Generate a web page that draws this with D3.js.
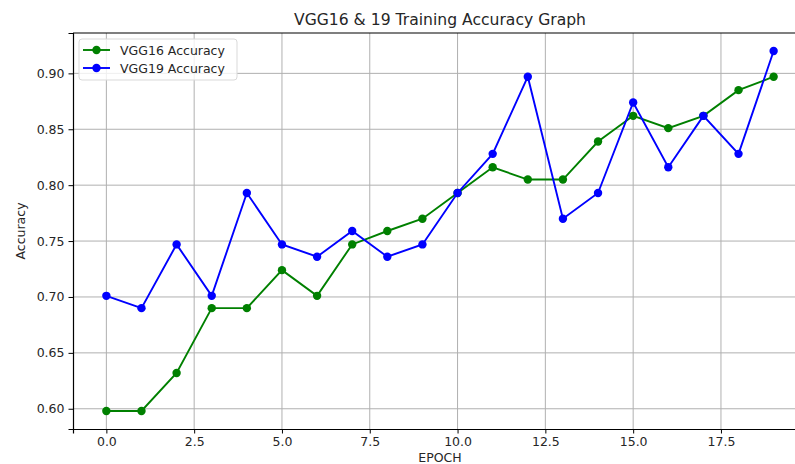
<!DOCTYPE html>
<html>
<head>
<meta charset="utf-8">
<script src="https://cdn.jsdelivr.net/npm/d3@7"></script>
<style>
  body { margin: 0; background: #fff; }
  text { font-family: "DejaVu Sans", sans-serif; fill: #262626; }
</style>
</head>
<body>
<div id="chart"></div>
<script>
// <-- ************ DATA ************ -->
const EPOCHS = d3.range(0, 20);
const VGG16_ACC = [0.598, 0.598, 0.632, 0.690, 0.690, 0.724, 0.701, 0.747, 0.759, 0.770,
                   0.793, 0.816, 0.805, 0.805, 0.839, 0.862, 0.851, 0.862, 0.885, 0.897];
const VGG19_ACC = [0.701, 0.690, 0.747, 0.701, 0.793, 0.747, 0.736, 0.759, 0.736, 0.747,
                   0.793, 0.828, 0.897, 0.770, 0.793, 0.874, 0.816, 0.862, 0.828, 0.920];
const X_TICKS = [0, 2.5, 5, 7.5, 10, 12.5, 15, 17.5];
const Y_TICKS = [0.60, 0.65, 0.70, 0.75, 0.80, 0.85, 0.90];
const SERIES = [
  {name: "VGG16 Accuracy", values: VGG16_ACC, color: "green"},
  {name: "VGG19 Accuracy", values: VGG19_ACC, color: "blue"}
];

// <-- ************ GLOBAL CONSTANTS ************ -->
const FRAME_WIDTH = 795;
const FRAME_HEIGHT = 464;
const MARGINS = {left: 73, right: -12, top: 33, bottom: 35};
const GRAPH_WIDTH = FRAME_WIDTH - MARGINS.left - MARGINS.right;
const GRAPH_HEIGHT = FRAME_HEIGHT - MARGINS.top - MARGINS.bottom;

const svg = d3.select("#chart")
  .append("svg")
  .attr("width", FRAME_WIDTH)
  .attr("height", FRAME_HEIGHT);

// matplotlib-like 5% margins
const xPad = (19 - 0) * 0.05;
const yMin = d3.min(SERIES, s => d3.min(s.values));
const yMax = d3.max(SERIES, s => d3.max(s.values));
const yPad = (yMax - yMin) * 0.05;

const X_SCALE = d3.scaleLinear()
  .domain([0 - xPad, 19 + xPad])
  .range([0, GRAPH_WIDTH]);
const Y_SCALE = d3.scaleLinear()
  .domain([yMin - yPad, yMax + yPad])
  .range([GRAPH_HEIGHT, 0]);

const g = svg.append("g")
  .attr("transform", "translate(" + MARGINS.left + "," + MARGINS.top + ")");

// grid
g.append("g")
  .selectAll("line")
  .data(X_TICKS)
  .enter()
  .append("line")
  .attr("x1", d => X_SCALE(d)).attr("x2", d => X_SCALE(d))
  .attr("y1", 0).attr("y2", GRAPH_HEIGHT)
  .attr("stroke", "#b0b0b0").attr("stroke-width", 1);
g.append("g")
  .selectAll("line")
  .data(Y_TICKS)
  .enter()
  .append("line")
  .attr("x1", 0).attr("x2", GRAPH_WIDTH)
  .attr("y1", d => Y_SCALE(d)).attr("y2", d => Y_SCALE(d))
  .attr("stroke", "#b0b0b0").attr("stroke-width", 1);

// axes
const xAxis = g.append("g")
  .attr("transform", "translate(0," + GRAPH_HEIGHT + ")")
  .call(d3.axisBottom(X_SCALE).tickValues(X_TICKS).tickFormat(d3.format(".1f")).tickSizeOuter(0).tickSize(4.5).tickPadding(4));
const yAxis = g.append("g")
  .call(d3.axisLeft(Y_SCALE).tickValues(Y_TICKS).tickFormat(d3.format(".2f")).tickSizeOuter(0).tickSize(4.5).tickPadding(4));
[xAxis, yAxis].forEach(a => {
  a.attr("font-size", "12.5px").attr("font-family", "DejaVu Sans");
  a.selectAll("text").attr("fill", "#262626");
  a.selectAll("line").attr("stroke", "#000");
  a.select(".domain").attr("stroke", "#000").attr("stroke-width", 1.2);
});

// top spine
g.append("line")
  .attr("x1", 0).attr("x2", GRAPH_WIDTH)
  .attr("y1", 0).attr("y2", 0)
  .attr("stroke", "#000").attr("stroke-width", 1.2);

// lines and markers
const line = d3.line()
  .x((d, i) => X_SCALE(EPOCHS[i]))
  .y(d => Y_SCALE(d));

SERIES.forEach(s => {
  g.append("path")
    .datum(s.values)
    .attr("d", line)
    .attr("fill", "none")
    .attr("stroke", s.color)
    .attr("stroke-width", 1.9);
  g.append("g")
    .selectAll("circle")
    .data(s.values)
    .enter()
    .append("circle")
    .attr("cx", (d, i) => X_SCALE(EPOCHS[i]))
    .attr("cy", d => Y_SCALE(d))
    .attr("r", 4.2)
    .attr("fill", s.color);
});

// title and labels
svg.append("text")
  .attr("x", 440).attr("y", 25)
  .attr("text-anchor", "middle")
  .attr("font-size", "15.6px")
  .text("VGG16 & 19 Training Accuracy Graph");

svg.append("text")
  .attr("x", 440).attr("y", 461.5)
  .attr("text-anchor", "middle")
  .attr("font-size", "12.5px")
  .text("EPOCH");

svg.append("text")
  .attr("transform", "translate(25," + (MARGINS.top + GRAPH_HEIGHT / 2) + ") rotate(-90)")
  .attr("text-anchor", "middle")
  .attr("font-size", "12.5px")
  .text("Accuracy");

// legend
const legend = g.append("g").attr("transform", "translate(6,6)");
legend.append("rect")
  .attr("width", 158).attr("height", 41)
  .attr("rx", 3)
  .attr("fill", "#fff").attr("fill-opacity", 0.8)
  .attr("stroke", "#d9d9d9");
SERIES.forEach((s, i) => {
  const row = legend.append("g").attr("transform", "translate(0," + (11 + i * 18) + ")");
  row.append("line")
    .attr("x1", 4).attr("x2", 31)
    .attr("stroke", s.color).attr("stroke-width", 1.9);
  row.append("circle").attr("cx", 17.5).attr("r", 4.2).attr("fill", s.color);
  row.append("text")
    .attr("x", 41).attr("y", 4.5)
    .attr("font-size", "12.5px")
    .text(s.name);
});
</script>
</body>
</html>
